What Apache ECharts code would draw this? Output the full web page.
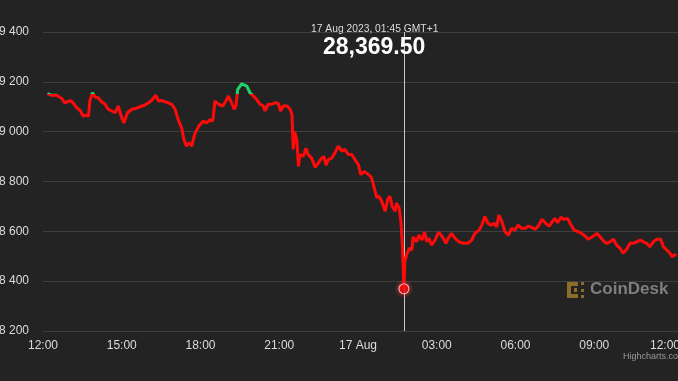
<!DOCTYPE html>
<html>
<head>
<meta charset="utf-8">
<script src="https://cdn.jsdelivr.net/npm/echarts@6/dist/echarts.min.js"></script>
<style>
html,body{margin:0;padding:0;background:#232323;}
#chart{width:678px;height:381px;}
</style>
</head>
<body>
<div id="chart"></div>
<script>
// ---- Data (BTC price, 16-17 Aug 2023, GMT+1) ----
const startTime = '2023-08-16T12:00';
const times = [
'2023-08-16T12:10','2023-08-16T12:20','2023-08-16T12:31','2023-08-16T12:43','2023-08-16T12:50','2023-08-16T13:02','2023-08-16T13:09','2023-08-16T13:17','2023-08-16T13:25','2023-08-16T13:32',
'2023-08-16T13:38','2023-08-16T13:44','2023-08-16T13:47','2023-08-16T13:53','2023-08-16T13:59','2023-08-16T14:06','2023-08-16T14:14','2023-08-16T14:22','2023-08-16T14:29','2023-08-16T14:37',
'2023-08-16T14:45','2023-08-16T14:52','2023-08-16T15:00','2023-08-16T15:05','2023-08-16T15:13','2023-08-16T15:23','2023-08-16T15:34','2023-08-16T15:46','2023-08-16T15:53','2023-08-16T16:01',
'2023-08-16T16:08','2023-08-16T16:18','2023-08-16T16:24','2023-08-16T16:31','2023-08-16T16:39','2023-08-16T16:46','2023-08-16T16:54','2023-08-16T17:02','2023-08-16T17:09','2023-08-16T17:17',
'2023-08-16T17:22','2023-08-16T17:28','2023-08-16T17:34','2023-08-16T17:40','2023-08-16T17:47','2023-08-16T17:57','2023-08-16T18:06','2023-08-16T18:14','2023-08-16T18:22','2023-08-16T18:28',
'2023-08-16T18:33','2023-08-16T18:41','2023-08-16T18:51','2023-08-16T18:58','2023-08-16T19:04','2023-08-16T19:11','2023-08-16T19:17','2023-08-16T19:21','2023-08-16T19:25','2023-08-16T19:34',
'2023-08-16T19:46','2023-08-16T19:53','2023-08-16T20:01','2023-08-16T20:08','2023-08-16T20:16','2023-08-16T20:24','2023-08-16T20:27','2023-08-16T20:35','2023-08-16T20:43','2023-08-16T20:50',
'2023-08-16T20:58','2023-08-16T21:03','2023-08-16T21:09','2023-08-16T21:18','2023-08-16T21:25','2023-08-16T21:29','2023-08-16T21:32','2023-08-16T21:35','2023-08-16T21:40','2023-08-16T21:44',
'2023-08-16T21:47','2023-08-16T21:51','2023-08-16T21:55','2023-08-16T22:01','2023-08-16T22:06','2023-08-16T22:14','2023-08-16T22:22','2023-08-16T22:29','2023-08-16T22:37','2023-08-16T22:42',
'2023-08-16T22:47','2023-08-16T22:52','2023-08-16T23:00','2023-08-16T23:07','2023-08-16T23:15','2023-08-16T23:23','2023-08-16T23:30','2023-08-16T23:38','2023-08-16T23:46','2023-08-16T23:53',
'2023-08-17T00:01','2023-08-17T00:06','2023-08-17T00:14','2023-08-17T00:24','2023-08-17T00:31','2023-08-17T00:37','2023-08-17T00:43','2023-08-17T00:48','2023-08-17T00:54','2023-08-17T01:02',
'2023-08-17T01:08','2023-08-17T01:13','2023-08-17T01:18','2023-08-17T01:25','2023-08-17T01:28','2023-08-17T01:34','2023-08-17T01:38','2023-08-17T01:41','2023-08-17T01:45','2023-08-17T01:47',
'2023-08-17T01:51','2023-08-17T01:57','2023-08-17T02:03','2023-08-17T02:06','2023-08-17T02:14','2023-08-17T02:19','2023-08-17T02:26','2023-08-17T02:32','2023-08-17T02:37','2023-08-17T02:42',
'2023-08-17T02:48','2023-08-17T02:56','2023-08-17T03:04','2023-08-17T03:10','2023-08-17T03:15','2023-08-17T03:21','2023-08-17T03:26','2023-08-17T03:34','2023-08-17T03:42','2023-08-17T03:51',
'2023-08-17T04:01','2023-08-17T04:11','2023-08-17T04:20','2023-08-17T04:27','2023-08-17T04:37','2023-08-17T04:43','2023-08-17T04:50','2023-08-17T04:57','2023-08-17T05:04','2023-08-17T05:12',
'2023-08-17T05:17','2023-08-17T05:22','2023-08-17T05:29','2023-08-17T05:36','2023-08-17T05:44','2023-08-17T05:51','2023-08-17T05:59','2023-08-17T06:06','2023-08-17T06:14','2023-08-17T06:22',
'2023-08-17T06:29','2023-08-17T06:37','2023-08-17T06:45','2023-08-17T06:52','2023-08-17T07:01','2023-08-17T07:09','2023-08-17T07:17','2023-08-17T07:24','2023-08-17T07:30','2023-08-17T07:36',
'2023-08-17T07:44','2023-08-17T07:51','2023-08-17T07:59','2023-08-17T08:07','2023-08-17T08:14','2023-08-17T08:24','2023-08-17T08:31','2023-08-17T08:39','2023-08-17T08:46','2023-08-17T08:56',
'2023-08-17T09:06','2023-08-17T09:13','2023-08-17T09:21','2023-08-17T09:28','2023-08-17T09:36','2023-08-17T09:44','2023-08-17T09:51','2023-08-17T09:59','2023-08-17T10:06','2023-08-17T10:14',
'2023-08-17T10:22','2023-08-17T10:29','2023-08-17T10:37','2023-08-17T10:45','2023-08-17T10:52','2023-08-17T11:00','2023-08-17T11:07','2023-08-17T11:15','2023-08-17T11:23','2023-08-17T11:32',
'2023-08-17T11:38','2023-08-17T11:46','2023-08-17T11:53','2023-08-17T11:58','2023-08-17T12:03','2023-08-17T12:08'
];
const prices = [
29153,29146,29146,29133,29116,29125,29116,29096,29085,29062,
29066,29062,29123,29156,29139,29136,29120,29110,29090,29083,
29076,29103,29055,29035,29076,29090,29094,29103,29107,29116,
29125,29146,29123,29125,29120,29116,29110,29090,29048,29015,
28969,28942,28956,28942,28992,29025,29042,29035,29048,29042,
29123,29110,29103,29123,29143,29116,29090,29103,29170,29192,
29183,29156,29143,29130,29110,29103,29083,29110,29110,29116,
29113,29083,29103,29103,29090,29070,28929,29000,28969,28861,
28908,28914,28901,28934,28908,28894,28857,28874,28894,28901,
28865,28888,28894,28914,28942,28922,28929,28908,28908,28888,
28868,28828,28840,28828,28815,28775,28735,28741,28721,28681,
28728,28741,28701,28681,28714,28694,28641,28560,28369.5,28478,
28505,28532,28525,28578,28558,28585,28565,28598,28558,28572,
28545,28565,28596,28585,28572,28552,28572,28592,28572,28558,
28552,28552,28565,28592,28605,28625,28659,28632,28625,28632,
28618,28665,28639,28598,28585,28612,28605,28625,28612,28612,
28621,28616,28608,28621,28648,28632,28621,28639,28652,28635,
28656,28648,28652,28625,28605,28598,28592,28581,28568,28578,
28592,28578,28562,28552,28558,28568,28545,28532,28512,28528,
28552,28552,28558,28565,28558,28552,28538,28558,28568,28568,
28538,28525,28512,28498,28505,28505
];
const xTickLabels = ['12:00','15:00','18:00','21:00','17 Aug','03:00','06:00','09:00','12:00'];
const yMin = 28200, yMax = 29400, yStep = 200;
const openThreshold = 29150;
const highlightTime = '2023-08-17T01:45';
const highlightDateText = '17 Aug 2023, 01:45 GMT+1';

// ---- Build ----
const t0 = Date.parse(startTime);
const toHours = t => (Date.parse(t) - t0) / 3600000;
const seriesData = times.map((t, i) => [toHours(t), prices[i]]);
const hiIdx = times.indexOf(highlightTime);
const hiPoint = seriesData[hiIdx];
const fmtBig = v => v.toLocaleString('en-US', {minimumFractionDigits: 2, maximumFractionDigits: 2});
const FONT = '"Liberation Sans", Arial, sans-serif';
const RED = '#ff0a0a', GREEN = '#1fd36b';

const chart = echarts.init(document.getElementById('chart'), null, {renderer: 'canvas'});
chart.setOption({
  backgroundColor: '#232323',
  animation: false,
  grid: {left: 43, right: 0, top: 32, bottom: 50, containLabel: false, outerBoundsMode: 'none'},
  xAxis: {
    type: 'value', min: 0, max: 635 / 26.25, interval: 3,
    axisLine: {show: false}, axisTick: {show: false}, splitLine: {show: false},
    axisLabel: {
      color: '#dcdcdc', fontSize: 12, fontFamily: FONT, margin: 9,
      showMinLabel: true, showMaxLabel: true, hideOverlap: false,
      formatter: v => {
        const k = Math.round(v / 3);
        if (Math.abs(v - k * 3) > 1e-6 || !xTickLabels[k]) return '';
        if (k === xTickLabels.length - 1) return '{r|' + xTickLabels[k] + '}';
        return xTickLabels[k];
      },
      rich: {r: {color: '#dcdcdc', fontSize: 12, fontFamily: FONT, padding: [0, 16, 0, 0]}}
    }
  },
  yAxis: {
    type: 'value', min: yMin, max: yMax, interval: yStep,
    axisLine: {show: false}, axisTick: {show: false},
    splitLine: {lineStyle: {color: '#3e3e3e', width: 1}},
    axisLabel: {
      color: '#dcdcdc', fontSize: 12, fontFamily: FONT, margin: 14,
      formatter: v => String(v).replace(/\B(?=(\d{3})+(?!\d))/g, ' ')
    }
  },
  series: [
    {
      type: 'line', data: seriesData, showSymbol: false, symbol: 'none',
      lineStyle: {width: 3, color: RED}, z: 3,
      markLine: {
        silent: true, symbol: 'none', label: {show: false},
        lineStyle: {color: '#c8c8c8', width: 1, type: 'solid'},
        data: [{xAxis: hiPoint[0]}], z: 1
      }
    },
    {
      type: 'scatter', data: [hiPoint], symbolSize: 17, silent: true, z: 4,
      itemStyle: {color: 'rgba(255,40,40,0.3)'}
    },
    {
      type: 'scatter', data: [hiPoint], symbolSize: 10, silent: true, z: 5,
      itemStyle: {color: RED, borderColor: '#ffd6d6', borderWidth: 1.2}
    }
  ],
  graphic: [
    {type: 'text', left: 311, top: 24, z: 10,
     style: {text: highlightDateText, fill: '#dcdcdc', font: '10.3px ' + FONT}},
    {type: 'text', left: 323, top: 36, z: 10,
     style: {text: fmtBig(hiPoint[1]), fill: '#ffffff', font: 'bold 23px ' + FONT}},
    {type: 'group', left: 567, top: 282, z: 10, children: [
      {type: 'rect', shape: {x: 0, y: 0, width: 4, height: 16}, style: {fill: '#8c6d2a'}},
      {type: 'rect', shape: {x: 0, y: 0, width: 11, height: 4}, style: {fill: '#8c6d2a'}},
      {type: 'rect', shape: {x: 0, y: 12, width: 11, height: 4}, style: {fill: '#8c6d2a'}},
      {type: 'rect', shape: {x: 7, y: 6, width: 3, height: 4}, style: {fill: '#8c6d2a'}},
      {type: 'rect', shape: {x: 14, y: 0, width: 3, height: 3}, style: {fill: '#8c6d2a'}},
      {type: 'rect', shape: {x: 14, y: 7, width: 3, height: 3}, style: {fill: '#8c6d2a'}},
      {type: 'rect', shape: {x: 14, y: 13, width: 3, height: 3}, style: {fill: '#8c6d2a'}}
    ]},
    {type: 'text', left: 590, top: 281, z: 10,
     style: {text: 'CoinDesk', fill: '#7e7e7e', font: 'bold 17px ' + FONT}},
    {type: 'text', left: 623, top: 352, z: 10,
     style: {text: 'Highcharts.com', fill: '#9a9a9a', font: '9px ' + FONT}}
  ]
});

// Colour the line green above the opening level, red below (zone split)
const H = 381;
const yThr = chart.convertToPixel({gridIndex: 0}, [0, openThreshold])[1];
const f = Math.max(0, Math.min(1, yThr / H));
chart.setOption({
  series: [{
    lineStyle: {
      color: new echarts.graphic.LinearGradient(0, 0, 0, H, [
        {offset: 0, color: GREEN}, {offset: f, color: GREEN},
        {offset: f, color: RED}, {offset: 1, color: RED}
      ], true)
    }
  }]
});
</script>
</body>
</html>
